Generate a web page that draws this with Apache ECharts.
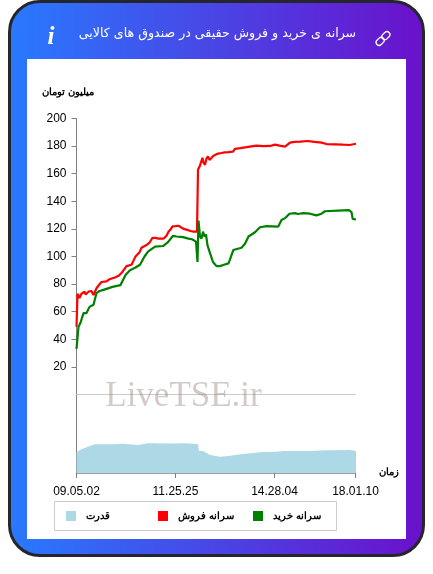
<!DOCTYPE html>
<html><head><meta charset="utf-8">
<script src="https://cdn.jsdelivr.net/npm/echarts@6/dist/echarts.min.js"></script>
<style>
html,body{margin:0;padding:0;background:#fff;width:433px;height:574px;overflow:hidden}
#card{position:absolute;left:8px;top:0;width:411px;height:551px;border:3px solid #25262b;border-radius:32px;background:linear-gradient(90deg,#2979ff,#6a11cb);}
#inner{position:absolute;left:27px;top:59px;width:379px;height:480px;background:#fff}
#c{position:absolute;left:0;top:0;width:433px;height:574px}
</style></head><body>
<div id="card"></div><div id="inner"></div><div id="c"></div>
<script>
const titleText='سرانه ی خرید و فروش حقیقی در صندوق های کالایی';
const yUnit='میلیون تومان';
const xUnit='زمان';
const nameBuy='سرانه خرید';
const nameSell='سرانه فروش';
const namePower='قدرت';
const xTickLabels={0:'09.05.02',99:'11.25.25',198:'14.28.04',279:'18.01.10'};
const yTicks=[20,40,60,80,100,120,140,160,180,200];

const sellSamples=[0,1,3,4,5,7,8,9,11,12,14,15,17,18,20,22,25,30,33,35,39,42,45,47,50,52,55,57,59,61,63,65,67,70,73,76,79,82,87,90,92,94,96,99,102,107,110,114,117,120.5,121.5,123,124.5,126,127,128.5,130,131.5,133,135,137,139,141.5,145,148,152,156.5,158.5,164,170,175,180,187,193.5,198.5,203,208.5,210,213.5,218,223.5,231.5,238,245,250,258,266.5,273,279.5];
const sellValues=[49,73,70,71,73,72,74.5,72.5,73,74.5,73.5,75,72,73,77,79,81.5,82,83.5,84,85,86,88,88.5,93,93.5,94,97,100,100.5,103,106.4,106,108.3,110,113.6,113.5,113,112.9,115,118,119.5,121.8,122,122.3,120,119.5,118.5,118,118,163,165,164.5,171.5,168,166.5,171,172.5,170,171,173,172.5,174.6,175,175.5,175.6,176,178,178.5,179.2,179.8,180.4,180,180.1,181.1,180.3,179.6,180.5,182.5,183,183.2,183.7,183,182.5,181.5,181.3,181,180.8,181.7];

const buySamples=[0,2,4,7,10,13,17,20,23,27,36,44,49,53.5,59,63.5,68,71.5,78.5,86.5,91.5,96.5,100,106.5,112,115.5,119.5,120.3,121,122,123.5,125,126.5,128,129.5,131,133.5,136.5,140,143.5,147.5,152,153.5,156.8,165,168.5,172,178.5,183.5,190,201.8,205,209,213,218.5,221.5,226.5,233.5,240,245,248.5,261.5,272.5,275,276.2,279.5];
const buyValues=[33,49,52,59,59,63.5,65,73.5,75,75.8,78,79.3,86.6,90,92,94,100,103.6,107.2,107.6,110.4,115,114.5,114,113,112.5,110.8,112,96,126,114.5,113,118,114.5,116,108,102.5,96,93,93,94,95,98,104.7,106.3,109.2,114.5,117.6,121.2,122,121.7,126.5,128,131,131.4,130.8,131.4,131,129.8,131,132.8,133.3,133.6,132.2,127.3,126.8];

const powerSamples=[0,3.5,10,18.5,36.5,46.5,61.5,71.5,93.5,110,121.5,122.5,126.5,133.5,143.5,153.5,166.5,183.5,200,206.5,233.5,250,273.5,280.5];
const powerValues=[20.7,23,25.7,28.7,28.7,29.3,28,29.7,29.5,29.7,29,22,22,18,16.3,17.3,19,20.7,21.3,22,22,22.7,23,21.7];

const zip=(a,b)=>a.map((x,i)=>[x,b[i]]);
const ch=echarts.init(document.getElementById('c'),null,{renderer:'canvas'});
const ARABIC='"Liberation Sans",sans-serif';
const legendBase={orient:'horizontal',icon:'rect',itemWidth:10,itemHeight:10,padding:0,selectedMode:false,top:511,
  textStyle:{fontFamily:ARABIC,fontSize:10,fontWeight:'bold',color:'#000',padding:[0,0,0,5]}};
ch.setOption({
  animation:false,
  grid:[
    {left:76.5,top:118.5,width:279,height:276},
    {left:76.5,top:394.5,width:279,height:78.5}
  ],
  xAxis:[
    {gridIndex:0,type:'value',min:0,max:279,position:'bottom',splitLine:{show:false},axisTick:{show:false},axisLabel:{show:false},
      axisLine:{onZero:false,lineStyle:{color:'#ccc',width:1}}},
    {gridIndex:1,type:'value',min:0,max:279,interval:99,splitLine:{show:false},
      axisLine:{onZero:false,lineStyle:{color:'#808080',width:1.5}},
      axisTick:{length:5,lineStyle:{color:'#808080',width:1}},
      axisLabel:{margin:13,fontFamily:'"Liberation Sans",Arial,sans-serif',fontSize:12,color:'#000',hideOverlap:false,showMinLabel:true,showMaxLabel:true,
        formatter:v=>xTickLabels[v]||''}}
  ],
  yAxis:[
    {gridIndex:0,type:'value',min:0,max:200,interval:20,splitLine:{show:false},
      axisLine:{show:true,onZero:false,lineStyle:{color:'#808080',width:1}},
      axisTick:{show:true,length:5,customValues:yTicks,lineStyle:{color:'#808080',width:1}},
      axisLabel:{margin:10,customValues:yTicks,fontFamily:'"Liberation Sans",Arial,sans-serif',fontSize:12,color:'#000'}},
    {gridIndex:1,type:'value',min:0,max:78.5,splitLine:{show:false},
      axisLine:{show:true,onZero:false,lineStyle:{color:'#808080',width:1}},axisTick:{show:false},axisLabel:{show:false}}
  ],
  legend:[
    Object.assign({},legendBase,{left:253,data:[{name:nameBuy,itemStyle:{color:'#008000'}}]}),
    Object.assign({},legendBase,{left:158,data:[{name:nameSell,itemStyle:{color:'#ff0000'}}]}),
    Object.assign({},legendBase,{left:66,data:[{name:namePower,itemStyle:{color:'#add8e6'}}]})
  ],
  series:[
    {name:namePower,type:'line',xAxisIndex:1,yAxisIndex:1,data:zip(powerSamples,powerValues),symbol:'none',clip:false,
      lineStyle:{width:0},areaStyle:{color:'#add8e6',opacity:1},itemStyle:{color:'#add8e6'},z:1},
    {name:nameSell,type:'line',xAxisIndex:0,yAxisIndex:0,data:zip(sellSamples,sellValues),symbol:'none',clip:false,
      lineStyle:{color:'#ff0000',width:2.2},itemStyle:{color:'#ff0000'},z:3},
    {name:nameBuy,type:'line',xAxisIndex:0,yAxisIndex:0,data:zip(buySamples,buyValues),symbol:'none',clip:false,
      lineStyle:{color:'#008000',width:2.2},itemStyle:{color:'#008000'},z:4}
  ],
  graphic:[
    {type:'text',z:10,style:{x:217.5,y:34,text:titleText,align:'center',verticalAlign:'middle',fill:'#fff',font:'12.6px "DejaVu Sans",sans-serif'}},
    {type:'text',z:10,style:{x:51,y:38,text:'i',align:'center',verticalAlign:'middle',fill:'#fff',font:'italic bold 25px "Liberation Serif",serif'}},
    {type:'rect',z:10,x:383,y:38.5,rotation:-Math.PI/4,shape:{x:-3,y:-8.5,width:6,height:9,r:3},style:{fill:'none',stroke:'#fff',lineWidth:1.3}},
    {type:'rect',z:10,x:383,y:38.5,rotation:-Math.PI/4,shape:{x:-3,y:-0.5,width:6,height:9,r:3},style:{fill:'none',stroke:'#fff',lineWidth:1.3}},
    {type:'text',z:10,style:{x:94,y:92,text:yUnit,align:'right',verticalAlign:'middle',fill:'#000',font:'bold 10px "Liberation Sans",sans-serif'}},
    {type:'text',z:10,style:{x:399,y:472,text:xUnit,align:'right',verticalAlign:'middle',fill:'#000',font:'bold 10px "Liberation Sans",sans-serif'}},
    {type:'text',z:10,style:{x:183.5,y:397,text:'LiveTSE.ir',align:'center',verticalAlign:'middle',fill:'rgba(140,115,110,0.38)',font:'35px "Liberation Serif",serif'}},
    {type:'rect',z:0,shape:{x:54.5,y:501.5,width:282,height:29},style:{fill:'#fff',stroke:'#ccc',lineWidth:1}}
  ]
});
</script></body></html>
